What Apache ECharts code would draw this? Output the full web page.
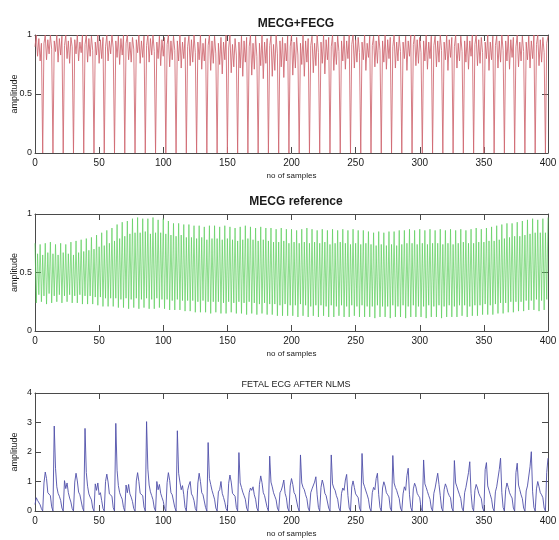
<!DOCTYPE html>
<html>
<head>
<meta charset="utf-8">
<script src="https://cdn.jsdelivr.net/npm/echarts@6/dist/echarts.min.js"></script>
<style>
  html, body { margin: 0; padding: 0; background: #ffffff; }
  #chart { width: 559px; height: 540px; }
</style>
</head>
<body>
<div id="chart"></div>
<script>
// Sample axis ticks shared by all three panels
const sampleTicks = [0, 50, 100, 150, 200, 250, 300, 350, 400];

// Abdominal signal (maternal + fetal), one value per sample 0..400
const mecgFecg = [
  0.90,1.00,0.82,0.97,0.78,0.93,
  0,0.93,1.00,0.79,0.96,0.84,1.00,0.88,
  0,0.95,0.86,1.00,0.77,0.97,0.83,0.99,
  0,0.91,1.00,0.80,0.95,0.76,0.98,0.90,
  0,0.96,0.84,1.00,0.78,0.94,0.85,1.00,
  0,0.92,1.00,0.77,0.97,0.82,0.99,0.87,
  0,0.94,0.83,1.00,0.76,0.96,0.80,0.98,
  0,0.90,1.00,0.78,0.95,0.84,1.00,0.89,
  0,0.95,0.81,0.99,0.75,0.97,0.83,1.00,
  0,0.93,1.00,0.79,0.94,0.77,0.98,0.88,
  0,0.96,0.85,1.00,0.76,0.95,0.81,0.99,
  0,0.91,1.00,0.77,0.97,0.83,1.00,0.86,
  0,0.94,0.80,0.99,0.74,0.96,0.82,0.98,
  0,0.92,1.00,0.73,0.95,0.79,0.99,0.87,
  0,0.95,0.78,1.00,0.72,0.94,0.80,0.98,
  0,0.90,0.99,0.74,0.96,0.77,1.00,0.85,
  0,0.94,0.79,1.00,0.71,0.93,0.78,0.97,
  0,0.91,1.00,0.70,0.95,0.76,0.99,0.84,
  0,0.93,0.75,0.98,0.67,0.94,0.79,1.00,
  0,0.89,1.00,0.68,0.92,0.73,0.97,0.83,
  0,0.94,0.72,0.99,0.65,0.95,0.77,0.98,
  0,0.90,1.00,0.66,0.93,0.71,0.99,0.82,
  0,0.93,0.74,1.00,0.63,0.94,0.76,0.97,
  0,0.91,0.99,0.65,0.92,0.70,1.00,0.84,
  0,0.95,0.73,0.98,0.64,0.93,0.78,0.99,
  0,0.90,1.00,0.66,0.94,0.72,0.98,0.83,
  0,0.93,0.75,1.00,0.65,0.95,0.77,0.97,
  0,0.91,0.99,0.68,0.93,0.74,1.00,0.85,
  0,0.94,0.76,1.00,0.67,0.96,0.79,0.98,
  0,0.90,1.00,0.70,0.94,0.75,0.99,0.86,
  0,0.95,0.78,0.99,0.71,0.95,0.80,1.00,
  0,0.92,1.00,0.72,0.96,0.77,0.98,0.85,
  0,0.94,0.79,1.00,0.70,0.93,0.81,0.99,
  0,0.91,0.99,0.73,0.95,0.76,1.00,0.87,
  0,0.95,0.77,1.00,0.71,0.96,0.80,0.98,
  0,0.90,1.00,0.72,0.94,0.78,0.99,0.86,
  0,0.94,0.80,0.99,0.70,0.95,0.82,1.00,
  0,0.92,1.00,0.74,0.96,0.76,0.98,0.85,
  0,0.95,0.78,1.00,0.71,0.94,0.80,0.99,
  0,0.91,0.99,0.73,0.95,0.77,1.00,0.87,
  0,0.94,0.79,1.00,0.70,0.96,0.81,0.98,
  0,0.90,1.00,0.72,0.93,0.78,0.99,0.86,
  0,0.95,0.77,0.99,0.71,0.95,0.82,1.00,
  0,0.92,1.00,0.74,0.96,0.76,0.98,0.85,
  0,0.94,0.80,1.00,0.70,0.94,0.79,0.99,
  0,0.91,0.99,0.72,0.95,0.77,1.00,0.87,
  0,0.95,0.78,1.00,0.71,0.96,0.81,0.98,
  0,0.90,1.00,0.73,0.94,0.78,0.99,0.86,
  0,0.94,0.79,0.99,0.72,0.95,0.80,1.00,
  0,0.92,1.00,0.74,0.96,0.77,0.98,0.85,
  0,0.93,0.99
];

// Maternal reference lead, one value per sample 0..400
const mecgReference = [
  0.75,0.24,0.66,0.31,0.74,0.25,0.65,0.30,0.75,0.23,0.67,0.32,0.76,0.24,0.66,0.30,0.74,0.25,0.65,0.31,
  0.75,0.24,0.67,0.30,0.74,0.25,0.66,0.31,0.76,0.24,0.65,0.30,0.77,0.24,0.67,0.31,0.78,0.23,0.68,0.30,
  0.79,0.23,0.69,0.30,0.80,0.23,0.70,0.29,0.82,0.22,0.72,0.29,0.84,0.21,0.73,0.28,0.86,0.21,0.75,0.28,
  0.88,0.21,0.77,0.28,0.91,0.20,0.79,0.27,0.93,0.20,0.81,0.28,0.94,0.19,0.83,0.27,0.96,0.20,0.84,0.28,
  0.97,0.19,0.84,0.27,0.96,0.20,0.85,0.28,0.96,0.19,0.83,0.27,0.97,0.19,0.84,0.28,0.95,0.20,0.84,0.27,
  0.96,0.19,0.83,0.27,0.94,0.18,0.82,0.26,0.92,0.18,0.81,0.27,0.92,0.18,0.82,0.26,0.91,0.17,0.80,0.26,
  0.91,0.17,0.80,0.26,0.90,0.16,0.79,0.25,0.90,0.16,0.80,0.26,0.89,0.16,0.78,0.25,0.90,0.15,0.79,0.25,
  0.90,0.16,0.79,0.25,0.89,0.15,0.78,0.24,0.90,0.15,0.79,0.25,0.89,0.16,0.78,0.24,0.88,0.15,0.77,0.25,
  0.89,0.15,0.78,0.24,0.90,0.14,0.79,0.25,0.89,0.15,0.78,0.24,0.88,0.14,0.77,0.23,0.89,0.15,0.78,0.24,
  0.88,0.14,0.77,0.23,0.88,0.14,0.76,0.23,0.87,0.13,0.76,0.22,0.88,0.13,0.77,0.23,0.87,0.13,0.75,0.22,
  0.87,0.13,0.76,0.22,0.86,0.12,0.75,0.23,0.87,0.13,0.76,0.22,0.88,0.12,0.75,0.21,0.87,0.13,0.76,0.22,
  0.86,0.12,0.75,0.22,0.87,0.13,0.76,0.21,0.86,0.12,0.74,0.22,0.87,0.12,0.75,0.21,0.86,0.13,0.76,0.22,
  0.87,0.12,0.75,0.21,0.86,0.12,0.74,0.22,0.87,0.13,0.75,0.21,0.86,0.12,0.74,0.22,0.86,0.12,0.75,0.21,
  0.85,0.12,0.74,0.21,0.84,0.11,0.73,0.22,0.85,0.12,0.74,0.21,0.84,0.12,0.73,0.21,0.85,0.11,0.74,0.22,
  0.85,0.12,0.73,0.21,0.86,0.12,0.74,0.22,0.86,0.11,0.75,0.21,0.87,0.12,0.75,0.22,0.86,0.12,0.74,0.21,
  0.87,0.12,0.75,0.21,0.86,0.11,0.74,0.22,0.87,0.12,0.75,0.21,0.86,0.12,0.75,0.22,0.87,0.11,0.74,0.21,
  0.86,0.12,0.75,0.22,0.87,0.12,0.74,0.21,0.86,0.12,0.75,0.22,0.87,0.13,0.76,0.22,0.86,0.12,0.75,0.21,
  0.87,0.13,0.75,0.22,0.88,0.13,0.76,0.22,0.87,0.14,0.76,0.23,0.88,0.14,0.77,0.22,0.89,0.14,0.77,0.23,
  0.90,0.15,0.78,0.24,0.91,0.15,0.79,0.24,0.92,0.16,0.80,0.25,0.92,0.16,0.81,0.25,0.93,0.17,0.81,0.25,
  0.94,0.17,0.82,0.26,0.95,0.18,0.83,0.26,0.96,0.18,0.84,0.27,0.95,0.17,0.84,0.26,0.96,0.18,0.84,0.27,
  0.97
];

// Fetal ECG recovered by the NLMS filter, one value per sample 0..400
const fetalEcg = [
  0.22,0.45,0.36,0.42,0.21,0.08,
  0,0.95,1.32,1.10,0.62,0.56,0.52,0.14,
  0,2.88,1.45,0.82,0.60,0.50,0.36,0.10,
  0,1.03,0.76,0.95,0.62,0.44,0.30,0.08,
  0,0.98,1.28,1.02,0.64,0.55,0.52,0.12,
  0,2.80,1.30,0.84,0.58,0.47,0.38,0.10,
  0,0.92,0.70,0.95,0.55,0.62,0.35,0.09,
  0,1.00,1.25,0.98,0.58,0.54,0.50,0.11,
  0,2.97,1.38,0.86,0.62,0.50,0.40,0.12,
  0,0.88,0.62,0.90,0.58,0.47,0.32,0.08,
  0,1.02,1.30,1.00,0.60,0.56,0.52,0.13,
  0,3.03,1.42,0.88,0.65,0.52,0.38,0.10,
  0,1.00,0.72,0.90,0.60,0.46,0.33,0.09,
  0,0.96,1.30,1.04,0.62,0.55,0.50,0.12,
  0,2.72,1.28,0.98,0.72,0.86,0.55,0.12,
  0,0.70,0.88,1.00,0.58,0.50,0.35,0.08,
  0,0.95,1.28,1.00,0.62,0.55,0.54,0.12,
  0,2.32,1.10,0.90,0.70,0.55,0.40,0.10,
  0,0.65,0.72,1.00,0.60,0.46,0.30,0.08,
  0,0.94,1.22,0.98,0.60,0.54,0.50,0.12,
  0,1.98,0.95,0.80,0.64,0.52,0.40,0.10,
  0,0.62,0.78,0.70,0.82,0.55,0.40,0.10,
  0,0.90,1.19,0.96,0.62,0.52,0.48,0.12,
  0,1.86,0.98,0.82,0.62,0.50,0.38,0.10,
  0,0.62,0.70,0.85,1.05,0.60,0.45,0.10,
  0,0.85,1.10,0.90,0.62,0.55,0.50,0.12,
  0,1.90,0.95,0.80,0.72,0.55,0.42,0.10,
  0,0.62,0.75,0.72,0.98,1.16,0.55,0.12,
  0,0.80,1.05,0.88,0.60,0.52,0.48,0.10,
  0,1.90,0.92,0.78,0.70,0.52,0.40,0.10,
  0,0.60,0.78,0.70,1.05,1.24,0.52,0.10,
  0,0.82,1.02,0.80,0.58,0.52,0.45,0.10,
  0,1.95,0.95,0.82,0.68,0.55,0.40,0.10,
  0,0.62,0.80,0.72,1.10,1.28,0.55,0.12,
  0,0.78,0.99,0.85,0.62,0.55,0.48,0.10,
  0,1.88,0.95,0.80,0.70,0.55,0.42,0.10,
  0,0.58,0.82,0.70,1.20,1.45,0.55,0.12,
  0,0.75,0.94,0.82,0.60,0.52,0.45,0.10,
  0,1.73,0.92,0.80,0.66,0.52,0.40,0.10,
  0,0.60,0.78,0.72,1.28,0.90,0.52,0.10,
  0,0.72,0.92,0.80,0.62,0.52,0.45,0.10,
  0,1.71,0.95,0.82,0.68,0.55,0.42,0.10,
  0,0.62,0.80,0.75,1.30,1.67,0.60,0.12,
  0,0.70,0.90,0.78,0.60,0.50,0.42,0.10,
  0,1.40,1.64,0.85,0.70,0.55,0.40,0.10,
  0,0.65,0.82,0.78,1.40,1.79,0.62,0.12,
  0,0.72,0.95,0.80,0.62,0.52,0.44,0.10,
  0,1.30,1.62,0.88,0.72,0.55,0.42,0.10,
  0,0.68,0.85,0.80,1.50,2.01,0.65,0.12,
  0,0.75,1.00,0.82,0.62,0.55,0.45,0.10,
  0,1.30,1.79
];

const panelTitles = ['MECG+FECG', 'MECG reference', 'FETAL ECG AFTER NLMS'];
const amplitudeTicks = [[0, 0.5, 1], [0, 0.5, 1], [0, 1, 2, 3, 4]];

const FONT = "'Liberation Sans', Arial, sans-serif";
const AXIS_COLOR = '#4a4a4a';
const TEXT_COLOR = '#1a1a1a';

const panels = [
  { top: 35,  height: 118, data: mecgFecg,      color: '#cf6670', opacity: 0.85 },
  { top: 214, height: 117, data: mecgReference, color: '#5ccf5c', opacity: 0.7 },
  { top: 393, height: 118, data: fetalEcg,      color: '#5050aa', opacity: 0.9 }
];

const grids = [], xAxes = [], yAxes = [], series = [], titles = [];

panels.forEach(function (p, k) {
  const yt = amplitudeTicks[k];
  const yMax = yt[yt.length - 1];
  const yInt = yt[1] - yt[0];
  grids.push({
    left: 35, width: 513, top: p.top, height: p.height,
    containLabel: false, outerBoundsMode: 'none'
  });

  const tickStyle = { show: true, inside: true, length: 6, lineStyle: { color: AXIS_COLOR } };
  const lineStyle = { show: true, onZero: false, lineStyle: { color: AXIS_COLOR, width: 1 } };

  // bottom sample axis with labels and name
  xAxes.push({
    type: 'value', gridIndex: k, position: 'bottom',
    min: sampleTicks[0], max: sampleTicks[sampleTicks.length - 1],
    interval: sampleTicks[1] - sampleTicks[0],
    axisLine: lineStyle, axisTick: tickStyle, splitLine: { show: false },
    axisLabel: { show: true, margin: 5, color: TEXT_COLOR, fontFamily: FONT, fontSize: 10 },
    name: 'no of samples', nameLocation: 'middle', nameGap: 19, nameMoveOverlap: false,
    nameTextStyle: { color: TEXT_COLOR, fontFamily: FONT, fontSize: 8 }
  });
  // top edge of the box
  xAxes.push({
    type: 'value', gridIndex: k, position: 'top',
    min: sampleTicks[0], max: sampleTicks[sampleTicks.length - 1],
    interval: sampleTicks[1] - sampleTicks[0],
    axisLine: lineStyle, axisTick: tickStyle, axisLabel: { show: false }, splitLine: { show: false }
  });
  // left amplitude axis
  yAxes.push({
    type: 'value', gridIndex: k, position: 'left',
    min: 0, max: yMax, interval: yInt,
    axisLine: lineStyle, axisTick: tickStyle, splitLine: { show: false },
    axisLabel: { show: true, margin: 3, color: TEXT_COLOR, fontFamily: FONT, fontSize: 9 },
    name: 'amplitude', nameLocation: 'middle', nameGap: 16, nameMoveOverlap: false,
    nameTextStyle: { color: TEXT_COLOR, fontFamily: FONT, fontSize: 9 }
  });
  // right edge of the box
  yAxes.push({
    type: 'value', gridIndex: k, position: 'right',
    min: 0, max: yMax, interval: yInt,
    axisLine: lineStyle, axisTick: tickStyle, axisLabel: { show: false }, splitLine: { show: false }
  });

  series.push({
    type: 'line', xAxisIndex: 2 * k, yAxisIndex: 2 * k,
    data: p.data.map(function (v, i) { return [i, v]; }),
    showSymbol: false, symbol: 'none', smooth: false, clip: true,
    lineStyle: { color: p.color, width: 1, opacity: p.opacity },
    emphasis: { disabled: true }, silent: true
  });

  titles.push({
    text: panelTitles[k], left: 291, textAlign: 'center',
    top: [13, 191, 375][k],
    textStyle: {
      fontFamily: FONT, color: TEXT_COLOR,
      fontSize: k === 2 ? 9 : 12, fontWeight: k === 2 ? 'normal' : 'bold'
    }
  });
});

const chart = echarts.init(document.getElementById('chart'), null, { renderer: 'canvas' });
chart.setOption({
  animation: false,
  backgroundColor: '#ffffff',
  title: titles,
  grid: grids,
  xAxis: xAxes,
  yAxis: yAxes,
  series: series
});
</script>
</body>
</html>
